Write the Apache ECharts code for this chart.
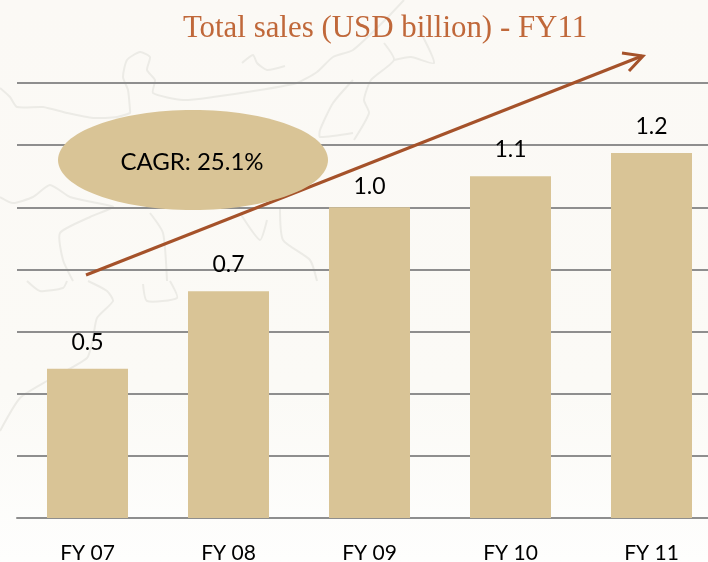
<!DOCTYPE html>
<html><head><meta charset="utf-8">
<style>html,body{margin:0;padding:0;background:#fbf9f5}#c{width:708px;height:562px}</style>
<script src="https://cdn.jsdelivr.net/npm/echarts@6/dist/echarts.min.js"></script>
</head><body><div id="c"></div>
<script>
const categories = ['FY 07','FY 08','FY 09','FY 10','FY 11'];
const sales = [0.48,0.73,1.0,1.1,1.175];
const titleText = 'Total sales (USD billion) - FY11';
const cagrText = 'CAGR: 25.1%';
const mapLines = [
 [[0,88],[10,97],[17,107],[43,107],[67,113],[93,118],[117,117],[130,113],[130,110],[128,90],[123,77],[127,60],[140,52],[150,57],[147,70],[155,80],[153,93],[183,100],[213,97],[260,90],[297,83],[317,72],[333,57],[353,50],[385,20],[404,0]],
 [[242,63],[253,55],[257,63],[267,70],[285,66]],
 [[353,80],[333,103],[320,130],[320,137],[353,133]],
 [[384,43],[394,60],[371,80],[364,100],[369,113],[354,140]],
 [[421,33],[434,63],[411,57],[394,60]],
 [[0,197],[13,203],[33,197],[50,185],[70,197],[97,203],[113,207],[90,217],[60,233],[63,260],[73,281]],
 [[150,213],[163,233],[167,281]],
 [[240,213],[260,240],[267,220]],
 [[280,207],[283,240],[310,260],[317,281]],
 [[27,281],[40,291],[63,288],[67,281]],
 [[88,281],[107,291],[113,301],[97,318],[93,338],[87,358],[47,381],[20,398],[0,431]],
 [[143,284],[147,301],[177,298],[170,281]]
];
const chart = echarts.init(document.getElementById('c'));
const mapGfx = mapLines.map(p=>({type:'polyline',z:-10,silent:true,shape:{points:p,smooth:0.2},style:{fill:null,stroke:'#ecebe6',lineWidth:2}}));
chart.setOption({
 animation:false,
 backgroundColor:{type:'linear',x:0,y:0,x2:0,y2:1,colorStops:[{offset:0,color:'#fbf9f5'},{offset:0.7,color:'#fbfaf6'},{offset:1,color:'#fefefd'}]},
 title:{text:titleText,left:384.5,top:8,textAlign:'center',textStyle:{fontFamily:'Liberation Serif',fontWeight:'normal',fontSize:30.9,color:'#c0683a'}},
 grid:{left:17,width:705,top:83,height:435,outerBoundsMode:'none'},
 xAxis:{type:'category',data:categories,axisTick:{show:false},
  axisLine:{lineStyle:{color:'#8e8e8e',width:2}},
  axisLabel:{fontFamily:'Lato',fontSize:21,color:'#000',margin:25}},
 yAxis:{type:'value',min:0,max:1.4,interval:0.2,axisLabel:{show:false},axisLine:{show:false},axisTick:{show:false},
  splitLine:{lineStyle:{color:'#8e8e8e',width:2}}},
 series:[{type:'bar',data:sales.map((v,i)=>i===2?{value:v,label:{distance:9}}:v),barWidth:81,itemStyle:{color:'#d9c496'},
  label:{show:true,position:'top',distance:15,fontFamily:'Lato',fontSize:23,color:'#000',formatter:p=>p.value.toFixed(1)}}],
 graphic:[
  ...mapGfx,
  {type:'polyline',z:50,shape:{points:[[86,275],[642,56]]},style:{fill:null,stroke:'#a5522a',lineWidth:3}},
  {type:'polyline',z:50,shape:{points:[[622,53],[643,56],[629,71]]},style:{fill:null,stroke:'#a5522a',lineWidth:3}},
  {type:'ellipse',z:51,shape:{cx:193,cy:160,rx:135,ry:50},style:{fill:'#d9c496'}},
  {type:'text',z:52,x:192,y:162,style:{text:cagrText,fontFamily:'Lato',fontSize:24,fill:'#000',align:'center',verticalAlign:'middle'}}
 ]
});
chart.setOption({title:{left:380}});
</script></body></html>
